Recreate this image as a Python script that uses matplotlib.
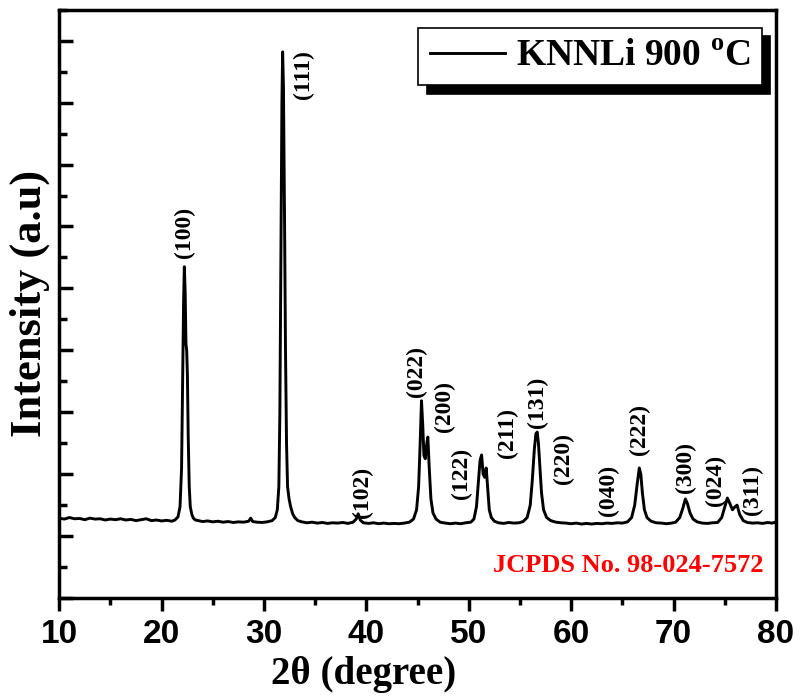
import matplotlib
matplotlib.use('Agg')
from matplotlib import pyplot as plt
from matplotlib.ticker import MultipleLocator

plt.rcParams['font.family'] = 'Liberation Serif'
plt.rcParams['font.weight'] = 'bold'
plt.rcParams['mathtext.fontset'] = 'custom'
plt.rcParams['mathtext.rm'] = 'Liberation Serif:bold'

# XRD pattern (2theta in degrees, intensity in arbitrary units)
two_theta = [
    10.0, 10.5, 11.0, 11.5, 12.0, 12.5, 13.0, 13.5, 14.0, 14.5, 15.0, 15.5, 16.0, 16.5,
    17.0, 17.5, 18.0, 18.5, 19.0, 19.5, 20.0, 20.5, 21.0, 21.3, 21.6, 21.8, 21.95, 22.05,
    22.15, 22.22, 22.3, 22.38, 22.45, 22.52, 22.6, 22.7, 22.8, 22.95, 23.1, 23.3, 23.6,
    24.0, 24.5, 25.0, 25.5, 26.0, 26.5, 27.0, 27.5, 28.0, 28.5, 28.7, 28.9, 29.3, 29.8,
    30.3, 30.8, 31.1, 31.3, 31.45, 31.55, 31.65, 31.75, 31.82, 31.9, 32.0, 32.1, 32.2,
    32.3, 32.45, 32.6, 32.8, 33.0, 33.3, 33.7, 34.2, 34.7, 35.2, 35.7, 36.2, 36.7, 37.2,
    37.7, 38.2, 38.7, 39.0, 39.2, 39.4, 39.7, 40.2, 40.7, 41.2, 41.7, 42.2, 42.7, 43.2,
    43.7, 44.2, 44.6, 44.9, 45.1, 45.25, 45.38, 45.5, 45.62, 45.75, 45.9, 46.0, 46.12,
    46.3, 46.5, 46.8, 47.2, 47.7, 48.2, 48.7, 49.2, 49.7, 50.2, 50.5, 50.75, 50.95, 51.1,
    51.25, 51.4, 51.55, 51.7, 51.85, 52.0, 52.2, 52.5, 52.9, 53.4, 53.9, 54.4, 54.9, 55.3,
    55.7, 56.0, 56.2, 56.4, 56.55, 56.68, 56.8, 56.95, 57.1, 57.3, 57.6, 58.0, 58.5, 59.0,
    59.5, 60.0, 60.5, 61.0, 61.5, 62.0, 62.5, 63.0, 63.5, 64.0, 64.5, 65.0, 65.5, 65.9,
    66.2, 66.45, 66.65, 66.8, 66.95, 67.15, 67.4, 67.8, 68.3, 68.8, 69.3, 69.8, 70.2,
    70.6, 70.9, 71.15, 71.35, 71.6, 71.9, 72.3, 72.8, 73.3, 73.8, 74.3, 74.7, 75.0, 75.25,
    75.5, 75.75, 76.0, 76.2, 76.45, 76.8, 77.2, 77.7, 78.2, 78.7, 79.2, 79.6, 80.0,
]
intensity = [
    2.58, 2.55, 2.60, 2.56, 2.57, 2.53, 2.58, 2.55, 2.56, 2.52, 2.55, 2.53, 2.56, 2.52,
    2.54, 2.50, 2.53, 2.56, 2.50, 2.52, 2.49, 2.51, 2.48, 2.52, 2.62, 2.95, 4.20, 7.00,
    9.60, 10.70, 9.90, 8.20, 8.00, 7.20, 5.20, 3.60, 2.95, 2.70, 2.58, 2.52, 2.50,
    2.47, 2.49, 2.46, 2.48, 2.45, 2.47, 2.44, 2.46, 2.45, 2.48, 2.58, 2.47, 2.45, 2.44,
    2.46, 2.50, 2.60, 2.85, 3.60, 6.00, 11.00, 16.00, 17.64, 16.50, 12.50, 8.00, 5.00,
    3.60, 3.20, 2.95, 2.72, 2.60, 2.50, 2.46, 2.43, 2.45, 2.42, 2.44, 2.41, 2.43, 2.42,
    2.44, 2.41, 2.45, 2.55, 2.72, 2.52, 2.43, 2.41, 2.43, 2.40, 2.42, 2.40, 2.41, 2.40,
    2.42, 2.45, 2.55, 2.85, 3.60, 5.00, 6.37, 5.60, 4.60, 4.50, 5.00, 5.20, 4.30,
    3.20, 2.75, 2.55, 2.45, 2.42, 2.40, 2.42, 2.40, 2.43, 2.45, 2.55, 2.95, 3.80, 4.45,
    4.62, 4.00, 3.90, 4.20, 3.50, 2.85, 2.60, 2.48, 2.43, 2.41, 2.44, 2.42, 2.43, 2.47,
    2.60, 3.00, 3.80, 4.80, 5.30, 5.36, 5.00, 4.20, 3.40, 2.85, 2.60, 2.50, 2.45, 2.43,
    2.42, 2.40, 2.42, 2.39, 2.41, 2.39, 2.41, 2.40, 2.42, 2.41, 2.43, 2.42, 2.46, 2.60,
    3.00, 3.70, 4.20, 4.00, 3.40, 2.85, 2.60, 2.48, 2.43, 2.42, 2.40, 2.42, 2.45,
    2.60, 2.90, 3.20, 3.05, 2.75, 2.55, 2.46, 2.42, 2.41, 2.43, 2.44, 2.60, 2.95, 3.23,
    3.05, 2.85, 2.95, 3.00, 2.70, 2.50, 2.44, 2.42, 2.43, 2.41, 2.44, 2.42, 2.45,
]

# Miller index labels and where they sit (2theta, intensity)
hkl_labels = ['(100)', '(111)', '(102)', '(022)', '(200)', '(122)', '(211)',
              '(131)', '(220)', '(040)', '(222)', '(300)', '(024)', '(311)']
hkl_x = [22.2, 33.9, 39.6, 44.9, 47.6, 49.3, 53.8, 56.7, 59.2, 63.6, 66.7, 71.2, 74.1, 77.7]
hkl_y = [11.8, 16.9, 3.4, 7.33, 6.2, 4.04, 5.33, 6.33, 4.52, 3.46, 5.43, 4.2, 3.81, 3.49]

fig = plt.figure(figsize=(8, 6.97), dpi=100)
ax = fig.add_axes([0.074, 0.142, 0.896, 0.844])

ax.plot(two_theta, intensity, color='black', lw=2.1, label='KNNLi 900 $^{\\mathrm{o}}$C')

for lab, x, y in zip(hkl_labels, hkl_x, hkl_y):
    ax.text(x, y, lab, rotation=90, ha='center', va='center', fontsize=17, fontweight='bold')

ax.text(0.982, 0.055, 'JCPDS No. 98-024-7572', transform=ax.transAxes, color='red',
        fontsize=19, fontweight='bold', ha='right', va='center')

ax.set_xlim(10, 80)
ax.set_ylim(0, 19)

# ticks
ax.xaxis.set_major_locator(MultipleLocator(10))
ax.xaxis.set_minor_locator(MultipleLocator(5))
ax.yaxis.set_major_locator(MultipleLocator(2))
ax.yaxis.set_minor_locator(MultipleLocator(1))
ax.tick_params(axis='x', which='major', direction='out', length=9, width=2.5, pad=6)
ax.tick_params(axis='x', which='minor', direction='out', length=5, width=2.5)
ax.tick_params(axis='y', which='major', direction='in', length=10, width=2.5, labelleft=False)
ax.tick_params(axis='y', which='minor', direction='in', length=6, width=2.5)
for t in ax.get_xticklabels():
    t.set_fontfamily('Liberation Sans')
    t.set_fontweight('bold')
    t.set_fontsize(24)

for s in ax.spines.values():
    s.set_linewidth(2.5)

# axis names
fig.text(0.454, 0.006, '2θ (degree)', fontsize=28, fontweight='bold', ha='center', va='bottom')
ax.set_ylabel('Intensity (a.u)', fontsize=32, fontweight='bold', labelpad=3)

# legenda
ax.legend(loc='upper right', bbox_to_anchor=(0.98, 0.969), borderaxespad=0,
          fontsize=27, frameon=True, fancybox=False, edgecolor='black',
          framealpha=1, handlelength=2.0, handletextpad=0.3, borderpad=0.3,
          shadow={'color': 'black', 'alpha': 1, 'ox': 6, 'oy': -6})
ax.get_legend().get_frame().set_linewidth(1.2)

plt.savefig('out.png', dpi=100)
